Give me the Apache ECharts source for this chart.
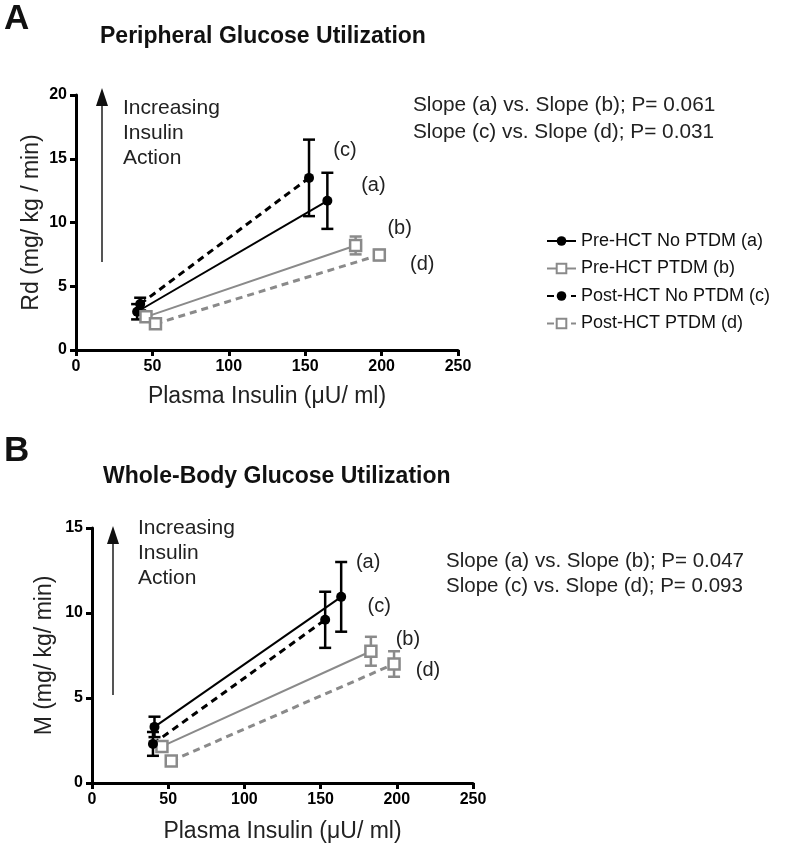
<!DOCTYPE html>
<html><head><meta charset="utf-8">
<script src="https://cdn.jsdelivr.net/npm/echarts@6/dist/echarts.min.js"></script>
<style>html,body{margin:0;padding:0;background:#fff}#c{width:800px;height:850px}</style>
</head><body><div id="c"></div>
<script>
// ---------- DATA ----------
const seriesNames = ['Pre-HCT No PTDM (a)', 'Pre-HCT PTDM (b)', 'Post-HCT No PTDM (c)', 'Post-HCT PTDM (d)'];
const seriesTags = ['(a)', '(b)', '(c)', '(d)'];

// Panel A: Peripheral glucose utilization (Rd)
const rdInsulin_a = [40, 164.5];   const rdMean_a = [3.0, 11.7];  const rdSem_a = [0.6, 2.2];
const rdInsulin_b = [45.8, 183];   const rdMean_b = [2.6, 8.2];   const rdSem_b = [0.3, 0.7];
const rdInsulin_c = [42, 152.5];   const rdMean_c = [3.6, 13.5];  const rdSem_c = [0.5, 3.0];
const rdInsulin_d = [52, 198.5];   const rdMean_d = [2.05, 7.45]; const rdSem_d = [0.25, 0.4];

// Panel B: Whole-body glucose utilization (M)
const mInsulin_a = [41, 163.5];    const mMean_a = [3.3, 10.95];  const mSem_a = [0.6, 2.05];
const mInsulin_b = [45.9, 183];    const mMean_b = [2.15, 7.75];  const mSem_b = [0.3, 0.85];
const mInsulin_c = [40, 153];      const mMean_c = [2.3, 9.6];    const mSem_c = [0.7, 1.65];
const mInsulin_d = [52, 198.2];    const mMean_d = [1.3, 7.0];    const mSem_d = [0.2, 0.75];

const slopeTextA = ['Slope (a) vs. Slope (b); P= 0.061', 'Slope (c) vs. Slope (d); P= 0.031'];
const slopeTextB = ['Slope (a) vs. Slope (b); P= 0.047', 'Slope (c) vs. Slope (d); P= 0.093'];
const arrowText = ['Increasing', 'Insulin', 'Action'];

// ---------- STYLE ----------
const FONT = "'Liberation Sans', Arial, sans-serif";
const GREY = '#8a8a8a';
const styles = [
  {color:'#000', symbol:'circle', size:10, lw:2, type:'solid', fill:'#000'},
  {color:GREY, symbol:'rect', size:11, lw:2, type:'solid', fill:'#fff'},
  {color:'#000', symbol:'circle', size:10, lw:3, type:[7,5], fill:'#000'},
  {color:GREY, symbol:'rect', size:11, lw:3, type:[7,5], fill:'#fff'}
];
const labelOffsetsA = [[46,-15],[44,-17],[36,-27],[43,9]];
const labelOffsetsB = [[27,-34],[37,-12],[54,-13],[34,6]];

const panelA = {
  x:[rdInsulin_a, rdInsulin_b, rdInsulin_c, rdInsulin_d],
  y:[rdMean_a, rdMean_b, rdMean_c, rdMean_d],
  e:[rdSem_a, rdSem_b, rdSem_c, rdSem_d]
};
const panelB = {
  x:[mInsulin_a, mInsulin_b, mInsulin_c, mInsulin_d],
  y:[mMean_a, mMean_b, mMean_c, mMean_d],
  e:[mSem_a, mSem_b, mSem_c, mSem_d]
};

function errRender(params, api){
  const x = api.value(0), lo = api.value(1), hi = api.value(2);
  const p1 = api.coord([x, hi]), p2 = api.coord([x, lo]);
  const w = 6, c = api.visual('color');
  const st = {stroke:c, lineWidth:2.5};
  return {type:'group', children:[
    {type:'line', shape:{x1:p1[0], y1:p1[1], x2:p2[0], y2:p2[1]}, style:st},
    {type:'line', shape:{x1:p1[0]-w, y1:p1[1], x2:p1[0]+w, y2:p1[1]}, style:st},
    {type:'line', shape:{x1:p2[0]-w, y1:p2[1], x2:p2[0]+w, y2:p2[1]}, style:st}
  ]};
}

function buildSeries(panel, idx, offsets){
  const out = [];
  for (let s = 0; s < 4; s++){
    const st = styles[s];
    out.push({
      type:'custom', name:seriesNames[s] + ' SEM', xAxisIndex:idx, yAxisIndex:idx,
      renderItem: errRender, itemStyle:{color: st.color}, z: 3,
      data: panel.x[s].map((v,i)=>[v, panel.y[s][i]-panel.e[s][i], panel.y[s][i]+panel.e[s][i]])
    });
  }
  for (let s = 0; s < 4; s++){
    const st = styles[s];
    out.push({
      type:'line', name:seriesNames[s], xAxisIndex:idx, yAxisIndex:idx,
      symbol: st.symbol, symbolSize: st.size, z: 4,
      lineStyle:{color:st.color, width:st.lw, type:st.type},
      itemStyle:{color:st.fill, borderColor:st.color, borderWidth: st.symbol==='rect'?2.5:0},
      color: st.color,
      data: panel.x[s].map((v,i)=>{
        const d = {value:[v, panel.y[s][i]]};
        if (i === panel.x[s].length-1) d.label = {show:true, position:'inside', offset:offsets[s], formatter:seriesTags[s], fontSize:20, color:'#222', fontFamily:FONT};
        return d;
      })
    });
  }
  return out;
}

function axisCommon(){
  return {
    axisLine:{show:true, lineStyle:{color:'#000', width:3}},
    axisTick:{show:true, length:6, lineStyle:{color:'#000', width:3}},
    axisLabel:{color:'#000', fontSize:16, fontWeight:'bold', fontFamily:FONT, margin:9},
    splitLine:{show:false}
  };
}
const nameStyle = {fontSize:23, color:'#222', fontFamily:FONT};

const chart = echarts.init(document.getElementById('c'), null, {renderer:'canvas'});
const arrowStyle = {stroke:'#555', lineWidth:2};
function txt(x, y, t, size, weight, color){
  return {type:'text', left:x, top:y, style:{text:t, font:(weight||'normal')+' '+size+'px '+FONT, fill:color||'#222'}};
}
const option = {
  backgroundColor:'#fff',
  animation:false,
  grid:[
    {left:76, top:95, width:382, height:255},
    {left:92, top:528, width:381, height:255}
  ],
  xAxis:[
    Object.assign(axisCommon(), {gridIndex:0, type:'value', min:0, max:250, interval:50,
      name:'Plasma Insulin (\u03bcU/ ml)', nameLocation:'middle', nameGap:35, nameTextStyle:nameStyle}),
    Object.assign(axisCommon(), {gridIndex:1, type:'value', min:0, max:250, interval:50,
      name:'Plasma Insulin (\u03bcU/ ml)', nameLocation:'middle', nameGap:37, nameTextStyle:nameStyle})
  ],
  yAxis:[
    Object.assign(axisCommon(), {gridIndex:0, type:'value', min:0, max:20, interval:5,
      name:'Rd (mg/ kg / min)', nameLocation:'middle', nameGap:33, nameTextStyle:nameStyle}),
    Object.assign(axisCommon(), {gridIndex:1, type:'value', min:0, max:15, interval:5,
      name:'M (mg/ kg/ min)', nameLocation:'middle', nameGap:36, nameTextStyle:nameStyle})
  ],
  legend:{
    orient:'vertical', left:541, top:227, itemWidth:29, itemHeight:12, itemGap:9.5,
    data:seriesNames.map(n=>({name:n})),
    textStyle:{fontSize:18, color:'#111', fontFamily:FONT, lineHeight:18},
    selectedMode:false
  },
  series:[...buildSeries(panelA, 0, labelOffsetsA), ...buildSeries(panelB, 1, labelOffsetsB)],
  graphic:[
    txt(4, 2, 'A', 35, 'bold', '#111'),
    txt(100, 25, 'Peripheral Glucose Utilization', 23, 'bold', '#111'),
    txt(4, 434, 'B', 35, 'bold', '#111'),
    txt(103, 465, 'Whole-Body Glucose Utilization', 23, 'bold', '#111'),
    txt(123, 98, arrowText[0], 21), txt(123, 123, arrowText[1], 21), txt(123, 148, arrowText[2], 21),
    txt(138, 518, arrowText[0], 21), txt(138, 543, arrowText[1], 21), txt(138, 568, arrowText[2], 21),
    txt(413, 95, slopeTextA[0], 20.8), txt(413, 122, slopeTextA[1], 20.8),
    txt(446, 551, slopeTextB[0], 20.5), txt(446, 576, slopeTextB[1], 20.5),
    {type:'line', shape:{x1:102, y1:262, x2:102, y2:100}, style:arrowStyle},
    {type:'polygon', shape:{points:[[96,106],[108,106],[102,88]]}, style:{fill:'#111'}},
    {type:'line', shape:{x1:113, y1:695, x2:113, y2:540}, style:arrowStyle},
    {type:'polygon', shape:{points:[[107,544],[119,544],[113,526]]}, style:{fill:'#111'}}
  ]
};
chart.setOption(option);
</script></body></html>
